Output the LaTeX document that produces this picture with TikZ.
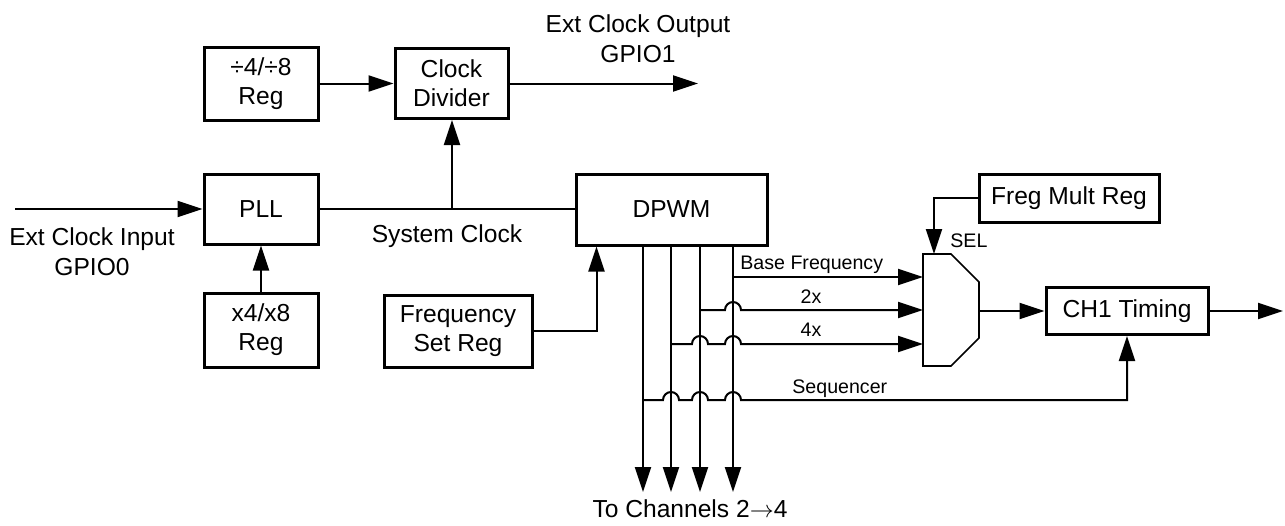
\documentclass[tikz,border=0pt]{standalone}
\usepackage{fontspec}
\setmainfont{Liberation Sans}
\usetikzlibrary{arrows.meta,calc}
\begin{document}
\begin{tikzpicture}[x=0.5pt,y=-0.5pt,
  >={Triangle[length=12.5pt,width=8pt]},
  blk/.style={draw,line width=1.5pt,inner sep=0pt,align=center,
    font=\fontsize{12.3}{14.6}\selectfont},
  conn/.style={line width=1pt},
  arr/.style={line width=1pt,->},
  lbl/.style={inner sep=0pt,align=center,font=\fontsize{12.3}{15}\selectfont},
  slbl/.style={inner sep=0pt,font=\fontsize{9.8}{11}\selectfont},
  muxline/.style={line width=0.85pt}]
\useasboundingbox (0,0) rectangle (1285,525);
% blocks
\node[blk,minimum width=57pt,minimum height=36.5pt] (reg48) at (261,83.5) {÷4/÷8\\Reg};
\node[blk,minimum width=56.5pt,minimum height=35pt] (div) at (451.5,83.5) {Clock\\Divider};
\node[blk,minimum width=57pt,minimum height=35pt] (pll) at (261,209) {PLL};
\node[blk,minimum width=57pt,minimum height=37pt] (x48) at (261,330) {x4/x8\\Reg};
\node[blk,minimum width=95.5pt,minimum height=35.5pt] (dpwm) at (671.5,209.5) {DPWM};
\node[blk,minimum width=74pt,minimum height=36pt] (fsr) at (458,331) {Frequency\\Set Reg};
\node[blk,minimum width=90pt,minimum height=24pt] (fmr) at (1069,198) {Freg Mult Reg};
\node[blk,minimum width=81pt,minimum height=23.5pt] (ch1) at (1127,311) {CH1 Timing};
% mux
\coordinate (mA) at (923,254);
\coordinate (mB) at (951,254);
\coordinate (mC) at (979,282);
\coordinate (mD) at (979,338);
\coordinate (mE) at (951,366);
\coordinate (mF) at (923,366);
\draw[muxline] (mA) -- (mB) -- (mC) -- (mD) -- (mE) -- (mF) -- cycle;
\coordinate (m1) at (923,277);
\coordinate (m2) at (923,310);
\coordinate (m3) at (923,344);
\coordinate (sel) at (934,254);
\coordinate (mo) at (979,311);
% labels
\node[lbl] (inlbl) at (92,252) {Ext Clock Input\\GPIO0};
\node[lbl] (outlbl) at (638,39) {Ext Clock Output\\GPIO1};
\node[lbl,anchor=base] (sclbl) at (447,242) {System Clock};
\node[lbl,anchor=base] (tolbl) at (690,517) {To Channels 2$\rightarrow$4};
\node[slbl,anchor=base west] (bflbl) at (740,269) {Base Frequency};
\node[slbl,anchor=base] (x2lbl) at (811,303) {2x};
\node[slbl,anchor=base] (x4lbl) at (811,336) {4x};
\node[slbl,anchor=base west] (seqlbl) at (792,393) {Sequencer};
\node[slbl,anchor=base west] (sellbl) at (950,247) {SEL};
% top connectors
\draw[arr] (reg48.east) -- (div.west);
\coordinate (dout) at (698,83.5);
\draw[arr] (div.east) -- (dout);
\coordinate (in) at (15,209);
\draw[arr] (in) -- (pll.west);
\draw[arr] (x48.north) -- (pll.south);
\draw[conn] (pll.east) -- (dpwm.west |- pll.east);
\coordinate (br) at (452,209);
\draw[arr] (br) -- (br |- div.south);
\path (dpwm.south west) ++(22,0) coordinate (dpin);
\draw[arr] (fsr.east) -| (dpin);
% bus
\coordinate (b1) at (643,492);
\coordinate (b2) at (671,492);
\coordinate (b3) at (700,492);
\coordinate (b4) at (733,492);
\foreach \b in {b1,b2,b3,b4} \draw[arr] (\b |- dpwm.south) -- (\b);
% mux inputs
\draw[arr] (m1 -| b4) -- (m1);
\draw[arr] (m2 -| b3) -- ($(m2 -| b4)+(-8,0)$) arc[start angle=180,end angle=360,radius=8] -- (m2);
\draw[arr] (m3 -| b2) -- ($(m3 -| b3)+(-8,0)$) arc[start angle=180,end angle=360,radius=8]
  -- ($(m3 -| b4)+(-8,0)$) arc[start angle=180,end angle=360,radius=8] -- (m3);
\coordinate (sq) at (1127,400);
\draw[arr] (sq -| b1) -- ($(sq -| b2)+(-8,0)$) arc[start angle=180,end angle=360,radius=8]
  -- ($(sq -| b3)+(-8,0)$) arc[start angle=180,end angle=360,radius=8]
  -- ($(sq -| b4)+(-8,0)$) arc[start angle=180,end angle=360,radius=8]
  -- (sq) -- (ch1.south);
% select and outputs
\draw[arr] (fmr.west) -| (sel);
\draw[arr] (mo) -- (mo -| ch1.west);
\coordinate (out) at (1283,311);
\draw[arr] (ch1.east) -- (out);
\end{tikzpicture}
\end{document}
